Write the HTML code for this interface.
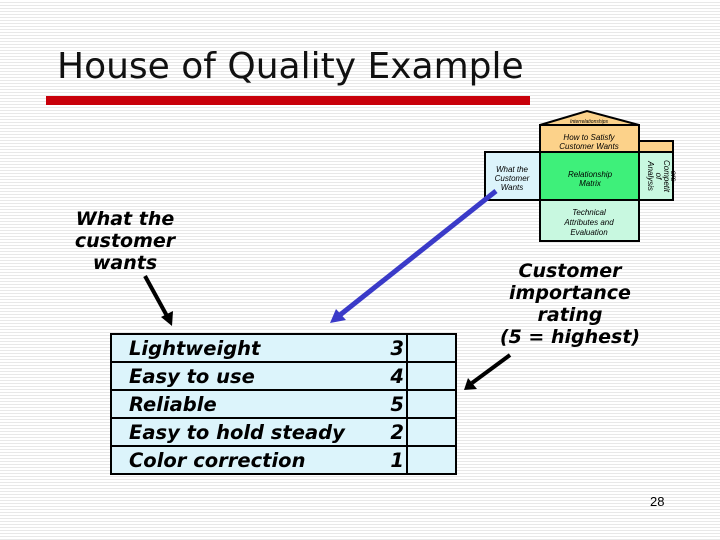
<!DOCTYPE html>
<html><head><meta charset="utf-8"><style>
html,body{margin:0;padding:0}
body{width:720px;height:540px;position:relative;overflow:hidden;font-family:"Liberation Sans",sans-serif;
background:repeating-linear-gradient(to bottom,#fff 0px,#fff 2px,#e8e8e8 2px,#e8e8e8 3px)}
.a{position:absolute}
.bi{font-weight:bold;font-style:italic}
table{border-collapse:collapse}
td{border:2px solid #000;background:#dcf4fb;height:26px;padding:0;font:bold italic 19.5px "DejaVu Sans",sans-serif}
.n{float:right;padding-right:2px}
</style></head><body>
<div class="a" style="left:57px;top:46px;font-size:36px;color:#111;font-family:'DejaVu Sans',sans-serif">House of Quality Example</div>
<div class="a" style="left:46px;top:96px;width:484px;height:9px;background:#c8000a"></div>

<svg class="a" style="left:0;top:0" width="720" height="540">
<polygon points="540,125 587,111 639,125" fill="#fcd28a" stroke="#000" stroke-width="2"/>
<text x="589" y="123" font-size="5" text-anchor="middle" font-style="italic" font-family="Liberation Sans">Interrelationships</text>
<rect x="540" y="125" width="99" height="27" fill="#fcd28a" stroke="#000" stroke-width="2"/>
<rect x="639" y="141" width="34" height="11" fill="#fcd28a" stroke="#000" stroke-width="2"/>
<rect x="485" y="152" width="55" height="48" fill="#dcf4fb" stroke="#000" stroke-width="2"/>
<rect x="540" y="152" width="99" height="48" fill="#3ef07a" stroke="#000" stroke-width="2"/>
<rect x="639" y="152" width="34" height="48" fill="#c8f8e0" stroke="#000" stroke-width="2"/>
<rect x="540" y="200" width="99" height="41" fill="#c8f8e0" stroke="#000" stroke-width="2"/>
<g font-family="Liberation Sans" font-style="italic" font-size="8" text-anchor="middle">
<text x="589" y="140">How to Satisfy</text><text x="589" y="149">Customer Wants</text>
<text x="512" y="172">What the</text><text x="512" y="181">Customer</text><text x="512" y="190">Wants</text>
<text x="590" y="177">Relationship</text><text x="590" y="186">Matrix</text>
<text x="589" y="215">Technical</text><text x="589" y="225">Attributes and</text><text x="589" y="235">Evaluation</text>
<g transform="translate(648,176) rotate(90)"><text x="0" y="0">Analysis</text><text x="0" y="-8">of</text><text x="0" y="-16">Competit</text><text x="0" y="-23">ors</text></g>
</g>
<line x1="496" y1="191" x2="340" y2="315" stroke="#3a3ac8" stroke-width="5"/>
<polygon points="330,323 336,309 346,320" fill="#3a3ac8"/>
<line x1="145" y1="276" x2="167" y2="316" stroke="#000" stroke-width="4"/>
<polygon points="172,326 161,317 173,311" fill="#000"/>
<line x1="510" y1="355" x2="472" y2="383" stroke="#000" stroke-width="4"/>
<polygon points="464,390 468,378 477,389" fill="#000"/>
</svg>

<div class="a bi" style="left:60px;top:208px;width:130px;text-align:center;font-size:19px;line-height:22px;font-family:'DejaVu Sans',sans-serif">What the customer wants</div>
<div class="a bi" style="left:485px;top:260px;width:170px;text-align:center;font-size:19px;line-height:22px;font-family:'DejaVu Sans',sans-serif">Customer importance rating<br>(5 = highest)</div>

<table class="a" style="left:110px;top:333px;width:347px">
<tr><td style="padding-left:17px">Lightweight<span class="n">3</span></td><td style="width:47px"></td></tr>
<tr><td style="padding-left:17px">Easy to use<span class="n">4</span></td><td></td></tr>
<tr><td style="padding-left:17px">Reliable<span class="n">5</span></td><td></td></tr>
<tr><td style="padding-left:17px">Easy to hold steady<span class="n">2</span></td><td></td></tr>
<tr><td style="padding-left:17px">Color correction<span class="n">1</span></td><td></td></tr>
</table>
<div class="a" style="left:650px;top:494px;font-size:13px">28</div>
</body></html>
